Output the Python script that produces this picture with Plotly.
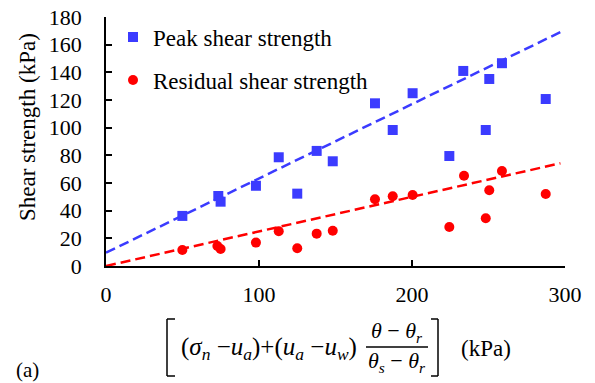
import plotly.graph_objects as go

# ---- data ----
peak_x = [49.9, 73.4, 74.9, 98.0, 112.9, 125.0, 137.7, 148.2, 175.8, 187.4,
          200.4, 224.4, 233.5, 248.2, 250.5, 258.8, 287.4]
peak_y = [36.2, 50.6, 46.5, 58.0, 78.6, 52.3, 83.2, 75.7, 117.6, 98.3,
          124.9, 79.5, 141.0, 98.3, 135.2, 146.6, 120.7]

resid_x = [49.9, 72.8, 74.9, 98.0, 112.9, 125.0, 137.7, 148.2, 175.8, 187.4,
           200.4, 224.4, 234.0, 248.2, 250.5, 258.8, 287.4]
resid_y = [11.6, 14.5, 12.3, 16.9, 25.1, 12.8, 23.4, 25.5, 48.2, 50.4,
           51.3, 28.2, 65.3, 34.5, 54.7, 68.7, 52.0]

# linear trend lines (intercept, slope) and their x extent
peak_fit = (9.6, 0.537)
resid_fit = (0.0, 0.25)
fit_x = [0, 297]

x_ticks = [0, 100, 200, 300]
y_ticks = [0, 20, 40, 60, 80, 100, 120, 140, 160, 180]

BLUE = "#3b3bff"
RED = "#ff0000"
FONT = "Liberation Serif"

W, H = 595, 383
L, R, T, B = 106, 30, 17, 117
PW, PH = W - L - R, H - T - B


def px(x):
    return (x - L) / PW


def py(y):
    return (H - B - y) / PH


fig = go.Figure()

fig.add_trace(go.Scatter(
    x=fit_x, y=[peak_fit[0] + peak_fit[1] * v for v in fit_x], mode="lines",
    line=dict(color=BLUE, width=2.5, dash="10px,5px"), showlegend=False,
    hoverinfo="skip"))
fig.add_trace(go.Scatter(
    x=fit_x, y=[resid_fit[0] + resid_fit[1] * v for v in fit_x], mode="lines",
    line=dict(color=RED, width=2.5, dash="10px,5px"), showlegend=False,
    hoverinfo="skip"))

fig.add_trace(go.Scatter(
    x=peak_x, y=peak_y, mode="markers", name="Peak shear strength",
    marker=dict(symbol="square", size=10, color=BLUE), legend="legend"))
fig.add_trace(go.Scatter(
    x=resid_x, y=resid_y, mode="markers", name="Residual shear strength",
    marker=dict(symbol="circle", size=10, color=RED), legend="legend2"))

axis_common = dict(
    showline=True, linecolor="black", linewidth=1.8, showgrid=False,
    zeroline=False, ticks="inside", ticklen=6, tickwidth=1.8,
    tickcolor="black", tickfont=dict(family=FONT, size=22, color="black"),
    automargin=False,
)

fig.update_xaxes(range=[0, 300], tickvals=x_ticks, ticklabelstandoff=8,
                 **axis_common)
fig.update_yaxes(range=[0, 180], tickvals=y_ticks, ticklabelstandoff=18,
                 **axis_common)

legend_font = dict(family=FONT, size=23, color="black")
fig.update_layout(
    width=W, height=H, margin=dict(l=L, r=R, t=T, b=B, pad=0,
                                   autoexpand=False),
    plot_bgcolor="white", paper_bgcolor="white",
    font=dict(family=FONT, color="black"),
    legend=dict(x=px(113), y=py(37), xanchor="left", yanchor="middle",
                font=legend_font, bgcolor="rgba(0,0,0,0)"),
    legend2=dict(x=px(113), y=py(80), xanchor="left", yanchor="middle",
                 font=legend_font, bgcolor="rgba(0,0,0,0)"),
)

ann = []


def text(x, y, s, size=22, angle=0, xanchor="center"):
    ann.append(dict(x=px(x), y=py(y), xref="paper", yref="paper", text=s,
                    showarrow=False, textangle=angle, xanchor=xanchor,
                    yanchor="middle",
                    font=dict(family=FONT, size=size, color="black")))


# y-axis title
text(27, 127, "Shear strength (kPa)", size=23, angle=-90)

# x-axis title: formula pieces
text(269, 348,
     "(<i>σ</i><sub><i>n</i></sub> −<i>u</i><sub><i>a</i></sub>)"
     "+(<i>u</i><sub><i>a</i></sub> −<i>u</i><sub><i>w</i></sub>)", size=25)
text(397, 332, "<i>θ</i> − <i>θ</i><sub><i>r</i></sub>", size=22)
text(397, 362, "<i>θ</i><sub><i>s</i></sub> − <i>θ</i><sub><i>r</i></sub>", size=22)
text(486, 348, "(kPa)", size=23)
text(14, 370, "(a)", size=21, xanchor="left")

shapes = []


def seg(x0, y0, x1, y1):
    shapes.append(dict(type="line", xref="paper", yref="paper",
                       x0=px(x0), y0=py(y0), x1=px(x1), y1=py(y1),
                       line=dict(color="black", width=1.5)))


# fraction bar
seg(366, 347, 428, 347)
# left bracket
seg(167, 319, 167, 376)
seg(167, 319, 175, 319)
seg(167, 376, 175, 376)
# right bracket
seg(438, 319, 438, 376)
seg(431, 319, 438, 319)
seg(431, 376, 438, 376)

fig.update_layout(annotations=ann, shapes=shapes)

fig.write_html("out.html", config={"displayModeBar": False},
               post_script="document.body.style.margin='0';")
